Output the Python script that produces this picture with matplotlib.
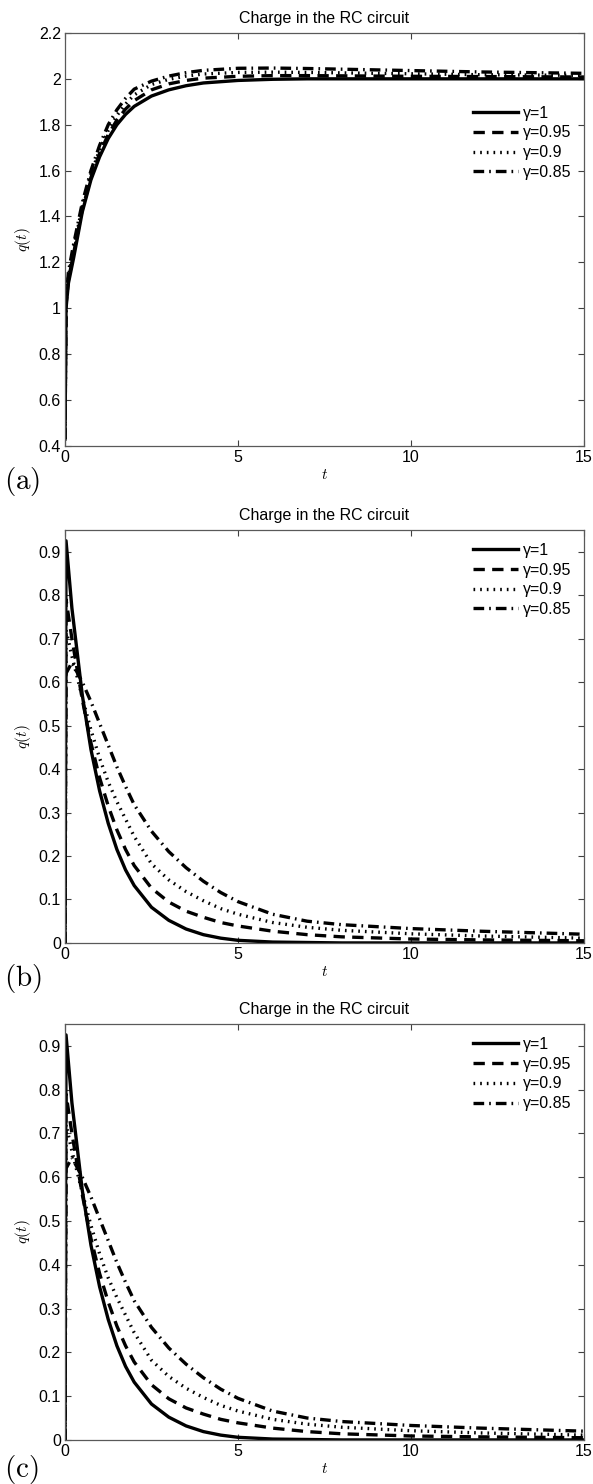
import matplotlib
matplotlib.use('Agg')
import matplotlib.pyplot as plt
from matplotlib.ticker import FormatStrFormatter

plt.rcParams['font.family'] = ['Liberation Sans', 'DejaVu Sans']
plt.rcParams['mathtext.fontset'] = 'cm'

gammas = ['1', '0.95', '0.9', '0.85']

# panel (a): charging
t_a = [0, 0.03, 0.1, 0.25, 0.5, 0.75, 1.0, 1.25, 1.5, 1.75, 2.0, 2.5, 3.0, 3.5, 4.0,
       5.0, 6.0, 7.0, 8.0, 10.0, 12.0, 15.0]
qa_100 = [0.43, 1.0, 1.11, 1.22, 1.42, 1.56, 1.66, 1.74, 1.80, 1.845, 1.88, 1.925, 1.952, 1.97, 1.982,
          1.993, 1.998, 2.0, 2.0, 2.0, 2.0, 2.0]
qa_095 = [0.43, 1.015, 1.125, 1.24, 1.43, 1.57, 1.675, 1.757, 1.82, 1.868, 1.905, 1.952, 1.978, 1.993, 2.003,
          2.011, 2.014, 2.014, 2.013, 2.011, 2.01, 2.008]
qa_090 = [0.43, 1.03, 1.14, 1.26, 1.445, 1.585, 1.69, 1.775, 1.84, 1.89, 1.93, 1.975, 1.998, 2.012, 2.021,
          2.028, 2.029, 2.028, 2.026, 2.022, 2.018, 2.015]
qa_085 = [0.43, 1.04, 1.16, 1.28, 1.46, 1.60, 1.71, 1.80, 1.865, 1.915, 1.955, 1.99, 2.012, 2.027, 2.037,
          2.046, 2.047, 2.045, 2.042, 2.036, 2.03, 2.024]

# panels (b) and (c): discharging
t_b = [0, 0.03, 0.2, 0.5, 0.75, 1.0, 1.25, 1.5, 1.75, 2.0, 2.5, 3.0, 3.5, 4.0, 4.5,
       5.0, 6.0, 7.0, 8.0, 10.0, 12.0, 15.0]
qb_100 = [0, 0.925, 0.77, 0.57, 0.445, 0.35, 0.275, 0.215, 0.168, 0.132, 0.082, 0.052, 0.032, 0.019, 0.011,
          0.006, 0.002, 0.001, 0, 0, 0, 0]
qb_095 = [0, 0.79, 0.70, 0.56, 0.46, 0.38, 0.315, 0.26, 0.215, 0.178, 0.126, 0.094, 0.073, 0.059, 0.047,
          0.039, 0.027, 0.019, 0.014, 0.009, 0.007, 0.005]
qb_090 = [0, 0.72, 0.66, 0.565, 0.49, 0.425, 0.37, 0.325, 0.285, 0.245, 0.182, 0.145, 0.118, 0.097, 0.079,
          0.066, 0.047, 0.036, 0.029, 0.021, 0.016, 0.011]
qb_085 = [0, 0.62, 0.645, 0.60, 0.555, 0.505, 0.455, 0.405, 0.36, 0.318, 0.257, 0.21, 0.173, 0.142, 0.116,
          0.095, 0.066, 0.05, 0.042, 0.033, 0.027, 0.02]

styles = [dict(linestyle='-'),
          dict(dashes=(3.4, 2.2)),
          dict(dashes=(0.5, 1.5)),
          dict(dashes=(3.2, 1.5, 0.5, 1.5))]

fig = plt.figure(figsize=(5.93, 14.84), dpi=100)

panels = [
    ([0.1096, 0.6995, 0.8752, 0.2783], t_a, [qa_100, qa_095, qa_090, qa_085],
     (0.4, 2.2), [0.4 + 0.2 * i for i in range(10)], (1.0, 0.855), '(a)', 0.6755),
    ([0.1096, 0.3646, 0.8752, 0.2783], t_b, [qb_100, qb_095, qb_090, qb_085],
     (0, 0.95), [0.1 * i for i in range(10)], (1.0, 1.0), '(b)', 0.3405),
    ([0.1096, 0.0297, 0.8752, 0.2803], t_b, [qb_100, qb_095, qb_090, qb_085],
     (0, 0.95), [0.1 * i for i in range(10)], (1.0, 1.0), '(c)', 0.010),
]

for rect, t, series, ylim, yticks, lpos, tag, ty in panels:
    ax = fig.add_axes(rect)
    for q, g, st in zip(series, gammas, styles):
        ax.plot(t, q, color='black', linewidth=2.4, label='γ=' + g, **st)
    ax.set_xlim(0, 15)
    ax.set_ylim(*ylim)
    ax.set_xticks([0, 5, 10, 15])
    ax.set_yticks(yticks)
    ax.yaxis.set_major_formatter(FormatStrFormatter('%g'))
    ax.tick_params(direction='in', top=True, right=True, length=4, labelsize=11.5,
                   color='0.25', pad=3)
    for s in ax.spines.values():
        s.set_color('0.35')
        s.set_linewidth(0.9)
    ax.set_title('Charge in the RC circuit', fontsize=11.5, pad=7)
    ax.set_xlabel('$t$', fontsize=11, labelpad=2)
    ax.set_ylabel('$q(t)$', fontsize=11, labelpad=4)
    ax.legend(loc='upper right', bbox_to_anchor=lpos, frameon=False, fontsize=11.5,
              handlelength=2.8, handletextpad=0.3, labelspacing=0.3, borderpad=0.3)
    fig.text(0.006, ty, r'$\mathrm{' + tag + '}$', fontsize=21, va='center', ha='left')

fig.savefig('out.png', dpi=100)
